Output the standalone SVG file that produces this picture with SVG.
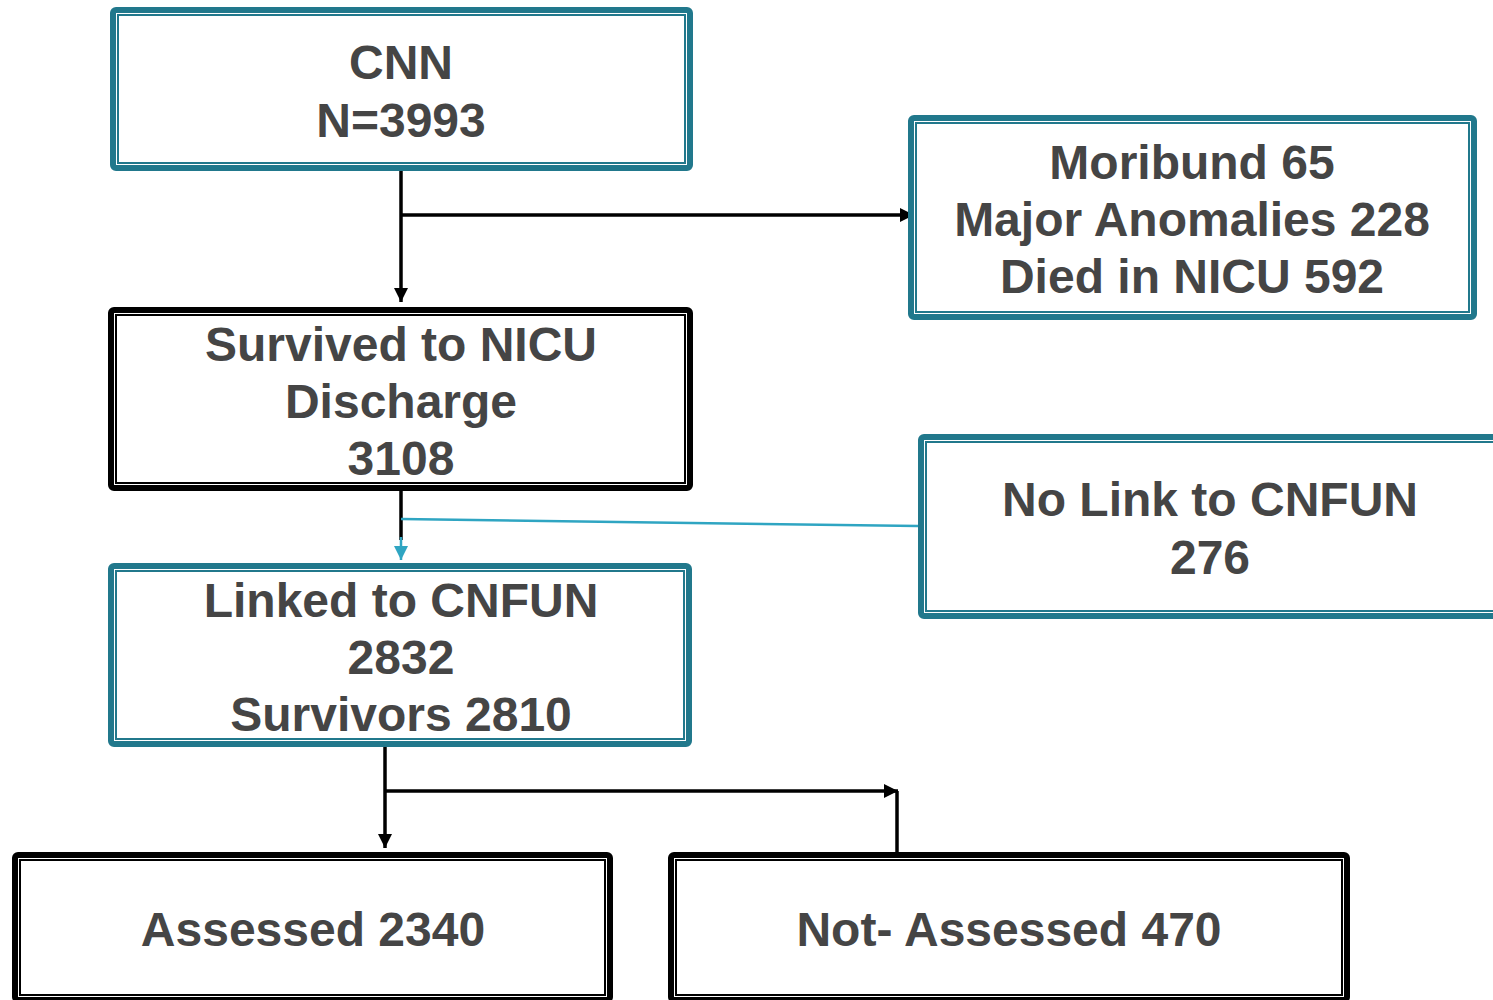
<svg xmlns="http://www.w3.org/2000/svg" width="1493" height="1000" viewBox="0 0 1493 1000">
<style>
.o{fill:#fff;stroke-width:6}
.i{fill:none;stroke-width:2}
.t .o{stroke:#21788c}
.t .i{stroke:#21788c}
.k .o{stroke:#000}
.k .i{stroke:#000}
text{font-family:"Liberation Sans",Arial,sans-serif;font-weight:bold;font-size:48px;fill:#454545;text-anchor:middle}
.c{stroke:#000;stroke-width:3.5;fill:none}
.b{stroke:#2fa5c2;stroke-width:2.5;fill:none}
</style>
<defs>
<marker id="ak" markerUnits="userSpaceOnUse" markerWidth="16" markerHeight="16" refX="14" refY="7" orient="auto"><path d="M0,0 L14,7 L0,14 Z" fill="#000"/></marker>
<marker id="ab" markerUnits="userSpaceOnUse" markerWidth="16" markerHeight="16" refX="14" refY="7" orient="auto"><path d="M0,0 L14,7 L0,14 Z" fill="#2fa5c2"/></marker>
</defs>
<rect width="1493" height="1000" fill="#fff"/>
<g id="connectors">
<line class="c" x1="401" y1="171" x2="401" y2="302" marker-end="url(#ak)"/>
<line class="c" x1="401" y1="215" x2="914" y2="215" marker-end="url(#ak)"/>
<line class="c" x1="401" y1="491" x2="401" y2="540"/>
<line class="b" x1="401" y1="519" x2="918" y2="526"/>
<line class="b" x1="401" y1="537" x2="401" y2="560" marker-end="url(#ab)"/>
<line class="c" x1="385" y1="747" x2="385" y2="848" marker-end="url(#ak)"/>
<line class="c" x1="385" y1="791" x2="898" y2="791" marker-end="url(#ak)"/>
<line class="c" x1="897" y1="791" x2="897" y2="853"/>
</g>
<g id="cnn" class="t">
<rect class="o" x="113" y="10" width="577" height="158" rx="3"/>
<rect class="i" x="118" y="15" width="567" height="148"/>
<text x="401" y="79">CNN</text>
<text x="401" y="137">N=3993</text>
</g>
<g id="excluded" class="t">
<rect class="o" x="911" y="118" width="563" height="199" rx="3"/>
<rect class="i" x="916" y="123" width="553" height="189"/>
<text x="1192" y="179">Moribund 65</text>
<text x="1192" y="236">Major Anomalies 228</text>
<text x="1192" y="293">Died in NICU 592</text>
</g>
<g id="survived" class="k">
<rect class="o" x="111" y="310" width="579" height="178" rx="3"/>
<rect class="i" x="116" y="315" width="569" height="168"/>
<text x="401" y="361">Survived to NICU</text>
<text x="401" y="418">Discharge</text>
<text x="401" y="475">3108</text>
</g>
<g id="nolink" class="t">
<rect class="o" x="921" y="437" width="600" height="179" rx="3"/>
<rect class="i" x="926" y="442" width="590" height="169"/>
<text x="1210" y="516">No Link to CNFUN</text>
<text x="1210" y="574">276</text>
</g>
<g id="linked" class="t">
<rect class="o" x="111" y="566" width="578" height="178" rx="3"/>
<rect class="i" x="116" y="571" width="568" height="168"/>
<text x="401" y="617">Linked to CNFUN</text>
<text x="401" y="674">2832</text>
<text x="401" y="731">Survivors 2810</text>
</g>
<g id="assessed" class="k">
<rect class="o" x="15" y="855" width="595" height="145" rx="3"/>
<rect class="i" x="20" y="860" width="585" height="135"/>
<text x="313" y="946">Assessed 2340</text>
</g>
<g id="notassessed" class="k">
<rect class="o" x="671" y="855" width="676" height="145" rx="3"/>
<rect class="i" x="676" y="860" width="666" height="135"/>
<text x="1009" y="946">Not- Assessed 470</text>
</g>
</svg>
